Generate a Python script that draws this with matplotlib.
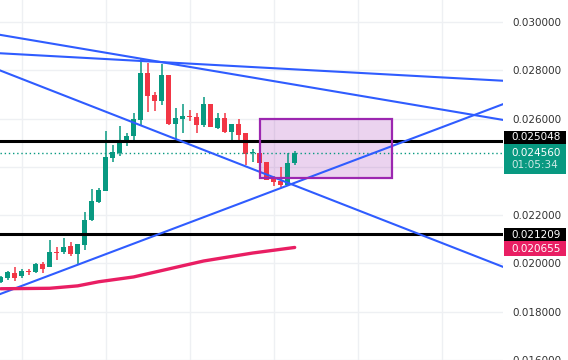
import numpy as np
import matplotlib
matplotlib.use("Agg")
import matplotlib.pyplot as plt
from matplotlib.patches import Rectangle

# candles (open, high, low, close)
opens = [0.01924, 0.01940, 0.01961, 0.01949, 0.01966, 0.01965, 0.01998, 0.01986, 0.02047, 0.02047,
         0.02072, 0.02039, 0.02076, 0.02179, 0.02254, 0.02299, 0.02435, 0.02456, 0.02509, 0.02526,
         0.02592, 0.02790, 0.02699, 0.02674, 0.02781, 0.02579, 0.02600, 0.02612, 0.02608, 0.02575,
         0.02662, 0.02559, 0.02604, 0.02546, 0.02579, 0.02538, 0.02456, 0.02456, 0.02419, 0.02353,
         0.02340, 0.02324, 0.02414]
highs = [0.01949, 0.01969, 0.01986, 0.01977, 0.01977, 0.02002, 0.02006, 0.02097, 0.02068, 0.02105,
         0.02089, 0.02082, 0.02212, 0.02307, 0.02311, 0.02550, 0.02489, 0.02567, 0.02542, 0.02621,
         0.02847, 0.02831, 0.02711, 0.02827, 0.02781, 0.02645, 0.02658, 0.02637, 0.02621, 0.02691,
         0.02662, 0.02621, 0.02621, 0.02579, 0.02596, 0.02538, 0.02472, 0.02460, 0.02419, 0.02361,
         0.02398, 0.02456, 0.02464]
lows = [0.01920, 0.01932, 0.01928, 0.01940, 0.01953, 0.01961, 0.01961, 0.01986, 0.02014, 0.02039,
        0.02031, 0.01998, 0.02056, 0.02175, 0.02250, 0.02299, 0.02419, 0.02443, 0.02485, 0.02505,
        0.02571, 0.02625, 0.02633, 0.02654, 0.02575, 0.02513, 0.02542, 0.02588, 0.02542, 0.02563,
        0.02563, 0.02555, 0.02538, 0.02501, 0.02513, 0.02406, 0.02419, 0.02377, 0.02344, 0.02320,
        0.02316, 0.02320, 0.02406]
closes = [0.01944, 0.01965, 0.01940, 0.01969, 0.01963, 0.01998, 0.01977, 0.02047, 0.02044, 0.02068,
          0.02039, 0.02080, 0.02179, 0.02258, 0.02303, 0.02439, 0.02460, 0.02513, 0.02526, 0.02596,
          0.02790, 0.02695, 0.02674, 0.02781, 0.02579, 0.02604, 0.02612, 0.02608, 0.02575, 0.02662,
          0.02563, 0.02604, 0.02546, 0.02579, 0.02530, 0.02452, 0.02460, 0.02414, 0.02344, 0.02336,
          0.02324, 0.02414, 0.02456]

# moving average (bar index, value)
ma_x = [0, 7, 11, 14, 19, 24, 29, 36, 42]
ma_y = [0.01895, 0.01897, 0.01907, 0.01924, 0.01944, 0.01977, 0.02010, 0.02043, 0.02066]

# trend lines: two points each (bar index, price)
trend_lines = [
    ((0, 0.02946), (72, 0.02593)),
    ((0, 0.02870), (72, 0.02756)),
    ((0, 0.02798), (72, 0.01983)),
    ((0, 0.01874), (72, 0.02662)),
]

# horizontal levels
levels = [0.025048, 0.021209]
last_price = 0.024560
ma_last = 0.020655
countdown = "01:05:34"

# highlighted zone: x0, x1, low, high
zone = (37, 55.86, 0.02353, 0.02600)

price_ticks = [0.016, 0.018, 0.020, 0.022, 0.024, 0.026, 0.028, 0.030]
hidden_ticks = [0.024]  # covered by the last price tag
grid_x = [3, 15, 27, 39, 51, 63]

GREEN = "#089981"
RED = "#f23645"
BLUE = "#2f5cff"
PINK = "#e91e63"
PURPLE = "#9c27b0"

W, H = 568, 360
fig = plt.figure(figsize=(W / 100, H / 100), dpi=100)
ax = fig.add_axes([0, 0, 503 / W, 1])
ax.set_xlim(-0.1, 71.76)
ax.set_ylim(0.016062, 0.030907)

for s in ax.spines.values():
    s.set_visible(False)

ax.set_yticks(price_ticks)
ax.set_yticklabels(["" if p in hidden_ticks else f"{p:.6f}" for p in price_ticks])
ax.yaxis.tick_right()
ax.tick_params(axis="y", length=0, pad=6.5, labelsize=7.5, labelcolor="#333333")
ax.set_xticks(grid_x)
ax.tick_params(axis="x", length=0, labelbottom=False)
ax.grid(True, color="#eef0f3", lw=1, zorder=0)
ax.set_axisbelow(True)

# zone
ax.add_patch(Rectangle((zone[0], zone[2]), zone[1] - zone[0], zone[3] - zone[2],
                       facecolor=PURPLE, alpha=0.2, edgecolor="none", zorder=1))
ax.add_patch(Rectangle((zone[0], zone[2]), zone[1] - zone[0], zone[3] - zone[2],
                       facecolor="none", edgecolor=PURPLE, lw=1.6, zorder=5))

# candles
o = np.array(opens)
c = np.array(closes)
hi = np.array(highs)
lo = np.array(lows)
idx = np.arange(len(o))
colors = [GREEN if cc >= oo else RED for oo, cc in zip(o, c)]
ax.vlines(idx, lo, hi, colors=colors, lw=1.1, zorder=2)
ax.bar(idx, np.maximum(np.abs(c - o), 0.00004), bottom=np.minimum(o, c),
       width=0.7, color=colors, zorder=3)

# levels
for lv in levels:
    ax.axhline(lv, color="black", lw=2.2, zorder=4)
ax.axhline(last_price, color=GREEN, lw=1, ls=(0, (1, 2)), zorder=4)

# trend lines
for p0, p1 in trend_lines:
    ax.axline(p0, p1, color=BLUE, lw=1.5, zorder=4)

# moving average
ax.plot(ma_x, ma_y, color=PINK, lw=2.4, solid_capstyle="round", zorder=4)

# price tags on the axis
def px(y):
    return 1 - y / H

def tag(y0, y1, color, lines):
    fig.patches.append(Rectangle((504 / W, px(y1)), 62 / W, (y1 - y0) / H,
                                 transform=fig.transFigure, facecolor=color,
                                 edgecolor="none", zorder=5))
    for ty, txt, a in lines:
        fig.text(511 / W, px(ty), txt, color="white", alpha=a, fontsize=7.5,
                 va="center", ha="left", zorder=6)

tag(131, 144, "black", [(137.5, f"{levels[0]:.6f}", 1)])
tag(144, 174, GREEN, [(153.5, f"{last_price:.6f}", 1), (165.5, countdown, 0.8)])
tag(228, 241, "black", [(234.5, f"{levels[1]:.6f}", 1)])
tag(241, 256, PINK, [(248.5, f"{ma_last:.6f}", 1)])

fig.savefig("out.png", dpi=100)
